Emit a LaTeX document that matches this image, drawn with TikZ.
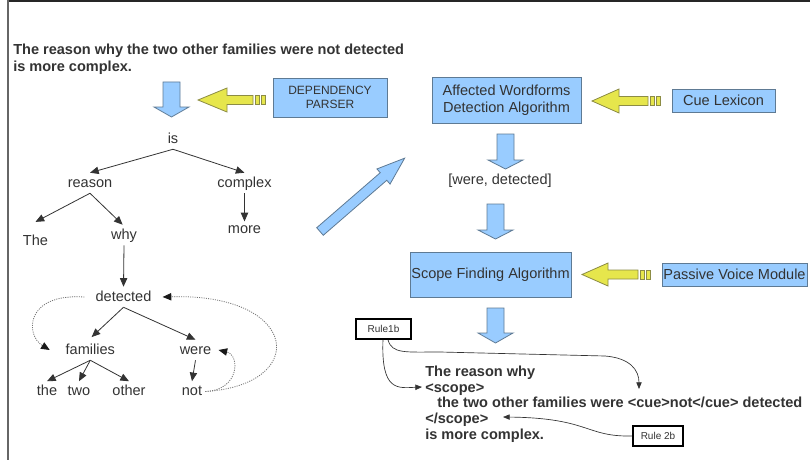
\documentclass[tikz,border=0pt]{standalone}
\usepackage{fontspec}
\setmainfont{Liberation Sans}
\usetikzlibrary{arrows.meta}
\definecolor{txt}{HTML}{333333}
\definecolor{boxblue}{HTML}{99CCFF}
\definecolor{boxline}{HTML}{5E7A94}
\definecolor{yel}{HTML}{E6E64C}
\definecolor{yelline}{HTML}{8C8C45}
\tikzset{
  tw/.style={font=\fontsize{10.9}{13}\selectfont, text=txt, inner sep=2.25pt, text height=8.25pt, text depth=2.25pt},
  tedge/.style={draw=black!80, line width=0.6pt, -{Triangle[length=6.5pt,width=5.5pt]}},
  dotedge/.style={draw=black!55, line width=0.6pt, dash pattern=on 0.8pt off 0.9pt, -{Triangle[length=6.5pt,width=5.5pt,color=black!90]}},
  redge/.style={draw=black!80, line width=0.5pt, -{Triangle[length=5pt,width=4pt]}},
  bluebox/.style={draw=boxline, fill=boxblue, line width=0.6pt, text=txt, align=center, inner sep=0pt, font=\fontsize{10.9}{12.5}\selectfont},
  rulebox/.style={draw=black, line width=1.3pt, fill=white, text=txt, inner sep=0pt, font=\fontsize{7.5}{9}\selectfont},
  barrow/.style={fill=boxblue, draw=boxline, line width=0.6pt, line join=miter},
  yarrow/.style={fill=yel, draw=yelline, line width=0.6pt, line join=miter},
  bt/.style={font=\bfseries\fontsize{10.9}{13}\selectfont, text=txt, inner sep=0pt, anchor=base west}
}
\newcommand\yelarrow[5]{%
  \draw[yarrow] (#1,#2) -- (#3,#2-#5) -- (#3,#2-4.5) -- (#4,#2-4.5) -- (#4,#2+4.5) -- (#3,#2+4.5) -- (#3,#2+#5) -- cycle;
  \draw[yarrow] (#4+2,#2-4.5) rectangle (#4+6,#2+4.5);
  \draw[yarrow] (#4+8,#2-4.5) rectangle (#4+12,#2+4.5);
}
\newcommand\bluedown[5]{%
  \draw[barrow] (#1,#3) -- (#2,#3) -- (#2,#4) -- (#2+9,#4) -- ({(#1+#2)/2},#5) -- (#1-9,#4) -- (#1,#4) -- cycle;
}
\begin{document}
\begin{tikzpicture}[x=0.75pt,y=-0.75pt]
\useasboundingbox (0,0) rectangle (810,460);
\fill[white] (0,0) rectangle (810,460);
% frame
\draw[black!85, line width=1.5pt] (8,1) -- (810,1);
\draw[black!60, line width=1.4pt] (8,0) -- (8,460);

% heading
\node[bt] (h1) at (13,55) {The reason why the two other families were not detected};
\node[bt] (h2) at (13,72) {is more complex.};

% block arrows
\bluedown{163}{180}{82}{107}{117}
\bluedown{497}{514}{134}{160}{169}
\bluedown{487}{504}{204}{230}{239}
\bluedown{487}{504}{308}{333}{343}
\yelarrow{198}{100}{227}{253}{12}
\yelarrow{592}{101}{619}{648}{12}
\yelarrow{582}{274.5}{608}{638}{11.5}
\begin{scope}[shift={(320,231.5)}, rotate=40.9]
  \draw[barrow] (0,-5) -- (84,-5) -- (84,-10) -- (112,0) -- (84,10) -- (84,5) -- (0,5) -- cycle;
\end{scope}

% boxes
\node[bluebox, minimum width=85.5pt, minimum height=29.25pt, font=\fontsize{9}{10}\selectfont] (dep) at (330,97.5) {DEPENDENCY\\PARSER};
\node[bluebox, minimum width=111.75pt, minimum height=34.5pt] (awd) at (506.5,100) {Affected Wordforms\\Detection Algorithm};
\node[bluebox, minimum width=77.25pt, minimum height=17.25pt] (cue) at (723.5,100.5) {Cue Lexicon};
\node[bluebox, minimum width=120.75pt, minimum height=33.75pt] (sfa) at (490.5,274.5) {Scope Finding Algorithm};
\node[bluebox, minimum width=108.75pt, minimum height=17.25pt] (pvm) at (734.5,274.5) {Passive Voice Module};
\node[tw] (wd) at (500,180) {[were, detected]};

% tree
\node[tw] (is) at (173,139) {is};
\node[tw] (reason) at (90,183) {reason};
\node[tw] (complex) at (244.5,183) {complex};
\node[tw] (The) at (35.5,241.5) {The};
\node[tw] (why) at (124,235) {why};
\node[tw] (more) at (244.5,229) {more};
\node[tw] (detected) at (123.5,297) {detected};
\node[tw] (families) at (90.3,350) {families};
\node[tw] (were) at (195.5,350) {were};
\node[tw] (the) at (47,391.5) {the};
\node[tw] (two) at (79,391.5) {two};
\node[tw] (other) at (129,391.5) {other};
\node[tw] (not) at (192,391.5) {not};

\draw[tedge] (is.south) -- (reason.north);
\draw[tedge] (is.south) -- (complex.north);
\draw[tedge] (reason.south) -- ([yshift=7pt]The.north);
\draw[tedge] (reason.south) -- ([xshift=-1pt]why.north);
\draw[tedge] (complex.south) -- ([yshift=-2pt]more.north);
\draw[tedge] (why.south) -- (detected.north);
\draw[tedge] (detected.south) -- ([xshift=1pt,yshift=2pt]families.north);
\draw[tedge] (detected.south) -- (were.north);
\draw[tedge] (families.south) -- (the.north);
\draw[tedge] (families.south) -- (two.north);
\draw[tedge] (families.south) -- (other.north);
\draw[tedge] (were.south) -- (not.north);

\draw[dotedge] ([xshift=-6pt]detected.west) .. controls (25,293) and (25,335) .. ([xshift=-9.5pt]families.west);
\draw[dotedge] (not.east) .. controls (240,390) and (240,355) .. ([xshift=3pt]were.east);
\draw[dotedge] (not.east) .. controls (310,385) and (300,293) .. ([xshift=6pt]detected.east);

% result text
\node[bt] (l1) at (425,376) {The reason why};
\node[bt] (l2) at (425,392) {<scope>};
\node[bt] (l3) at (437,407.5) {the two other families were <cue>not</cue> detected};
\node[bt] (l4) at (425,423) {</scope>};
\node[bt] (l5) at (425,439) {is more complex.};

\node[rulebox, minimum width=41.25pt, minimum height=15pt] (r1) at (383.5,329) {Rule1b};
\node[rulebox, minimum width=37.5pt, minimum height=15pt] (r2) at (658,436) {Rule 2b};

\coordinate (c1) at (422,387);
\coordinate (c2) at (639,389);
\coordinate (c3) at (503,417);
\draw[redge] ([xshift=-0.4pt]r1.south) .. controls (381,392) and (398,388) .. (c1);
\draw[redge] ([xshift=3.4pt]r1.south) .. controls (392,354) and (405,352) .. (440,352) -- (605,356) .. controls (630,358) and (639,370) .. (c2);
\draw[redge] (r2.west) .. controls (585,437) and (590,418) .. (c3);
\end{tikzpicture}
\end{document}
